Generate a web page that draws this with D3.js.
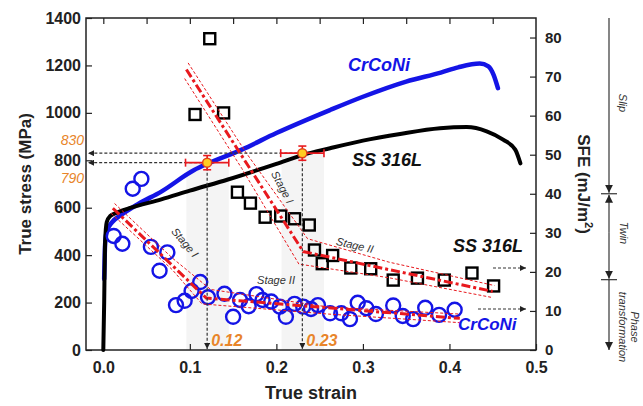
<!DOCTYPE html>
<html>
<head>
<meta charset="utf-8">
<script src="https://cdn.jsdelivr.net/npm/d3@7/dist/d3.min.js"></script>
<style>
  body { margin: 0; background: #fff; }
  svg { display: block; font-family: "Liberation Sans", Arial, sans-serif; }
</style>
</head>
<body>
<svg></svg>
<script>
// stress-strain curves: [true strain, true stress MPa]
var ssCurve = [[0,0],[0.001,200],[0.002,450],[0.004,540],[0.008,565],[0.015,578],[0.03,598],[0.067,635],
  [0.1,672],[0.144,719],[0.2,785],[0.23,822],[0.262,851],[0.3,883],[0.343,911],[0.389,935],[0.42,940],
  [0.443,922],[0.462,887],[0.476,845],[0.482,787]];
var crCurve = [[0.001,300],[0.002,440],[0.004,500],[0.01,538],[0.02,568],[0.04,615],[0.067,668],
  [0.105,759],[0.12,785],[0.16,845],[0.2,915],[0.262,1012],[0.3,1068],[0.35,1132],[0.39,1170],[0.41,1192],
  [0.435,1208],[0.445,1196],[0.451,1160],[0.456,1104]];

// SFE values (mJ/m2) vs strain
var ssSFE = [[0.106,60.3],[0.123,79.7],[0.139,60.7],[0.155,40.4],[0.170,37.6],[0.187,34.0],[0.205,34.3],
  [0.221,33.6],[0.238,32.0],[0.244,25.6],[0.253,22.1],[0.265,24.2],[0.286,21.0],[0.309,20.8],[0.335,17.9],
  [0.363,18.4],[0.394,17.9],[0.426,19.7],[0.451,16.4]];
var crSFE = [[0.012,29.2],[0.022,27.2],[0.034,41.3],[0.044,43.8],[0.055,26.4],[0.065,20.3],[0.074,25.0],
  [0.084,11.5],[0.094,12.6],[0.102,15.1],[0.112,17.4],[0.121,13.5],[0.140,14.4],[0.150,8.5],[0.158,12.8],
  [0.168,11.2],[0.177,14.3],[0.184,12.8],[0.194,12.4],[0.204,11.1],[0.211,8.5],[0.221,11.8],[0.231,11.1],
  [0.240,10.5],[0.248,11.5],[0.262,9.4],[0.275,9.4],[0.285,7.9],[0.294,12.1],[0.304,10.7],[0.315,9.2],
  [0.335,11.4],[0.346,8.7],[0.358,7.9],[0.372,10.8],[0.388,9.0],[0.406,10.3]];

// linear fits (stage I / stage II) and their confidence band edges
var ssFit = [[0.096,71.8],[0.231,25.2],[0.450,15.0]];
var ssBandA = [[0.098,73.5],[0.165,50.5],[0.236,28.5],[0.330,22.5],[0.452,16.5]];
var ssBandB = [[0.094,69.5],[0.160,46.5],[0.226,22.0],[0.330,18.5],[0.448,13.5]];
var crFit = [[0.011,36.3],[0.119,13.3],[0.412,8.1]];
var crBandA = [[0.013,37.5],[0.080,23.5],[0.124,15.5],[0.260,11.0],[0.412,9.2]];
var crBandB = [[0.009,35.0],[0.080,20.5],[0.114,11.8],[0.260,9.2],[0.412,7.0]];

// transition points: strain, stress, strain error, stress error
var transitions = [[0.12,790,0.025,30],[0.23,830,0.025,30]];
var stressTicks = [0,200,400,600,800,1000,1200,1400];
var sfeTicks = [0,10,20,30,40,50,60,70,80];
var strainTicks = [0,0.1,0.2,0.3,0.4,0.5];

var svgWidth = 643, svgHeight = 406;
var svg = d3.select("svg").attr("width", svgWidth).attr("height", svgHeight);

var xScale = d3.scaleLinear().domain([-0.02, 0.5]).range([86, 536]);
var yScale = d3.scaleLinear().domain([0, 1400]).range([350, 18]);
var ySfe = d3.scaleLinear().domain([0, 85]).range([350, 18]);

var orange = "#e8852a", red = "#e8191e", blue = "#1414e6";

var defs = svg.append("defs");
function marker(id, color, size) {
  defs.append("marker").attr("id", id)
    .attr("viewBox", "0 0 6 6").attr("refX", 6).attr("refY", 3)
    .attr("markerWidth", size).attr("markerHeight", size)
    .attr("markerUnits", "userSpaceOnUse").attr("orient", "auto")
    .append("path").attr("d", "M0,0 L6,3 L0,6 Z").attr("fill", color);
}
marker("arr", "#222", 6);
marker("arrBig", "#222", 8);

// light gray bands around transitions
transitions.forEach(function(t) {
  svg.append("rect")
    .attr("x", xScale(t[0] - t[2] + 0.001)).attr("y", yScale(t[1]))
    .attr("width", xScale(t[0] + t[2]) - xScale(t[0] - t[2] + 0.001))
    .attr("height", yScale(0) - yScale(t[1]))
    .attr("fill", "#f4f4f4");
});

// axes
var leftAx = svg.append("g").attr("transform", "translate(86,0)");
leftAx.call(d3.axisLeft(yScale).tickValues(d3.range(0, 1401, 100)).tickSize(-3).tickFormat(""));
leftAx.call(d3.axisLeft(yScale).tickValues(stressTicks).tickSize(-6).tickPadding(5).tickFormat(d3.format("d")));
var rightAx = svg.append("g").attr("transform", "translate(536,0)");
rightAx.call(d3.axisRight(ySfe).tickValues(d3.range(0, 81, 5)).tickSize(-3).tickFormat(""));
rightAx.call(d3.axisRight(ySfe).tickValues(sfeTicks).tickSize(-6).tickPadding(9).tickFormat(d3.format("d")));
var bottomAx = svg.append("g").attr("transform", "translate(0,350)");
bottomAx.call(d3.axisBottom(xScale).tickValues(d3.range(0, 0.49, 0.02)).tickSize(-3).tickFormat(""));
bottomAx.call(d3.axisBottom(xScale).tickValues(strainTicks).tickSize(-6).tickPadding(12).tickFormat(d3.format(".1f")));
var topAx = svg.append("g").attr("transform", "translate(0,18)");
topAx.call(d3.axisTop(xScale).tickValues(d3.range(0, 0.49, 0.05)).tickSize(-6).tickFormat(""));
svg.selectAll(".domain").remove();
svg.selectAll(".tick line").attr("stroke", "#222").attr("stroke-width", 1.2);
leftAx.selectAll("text").attr("font-size", 16).attr("font-weight", "bold").attr("fill", "#222");
rightAx.selectAll("text").attr("font-size", 15).attr("font-weight", "bold").attr("fill", "#222");
bottomAx.selectAll("text").attr("font-size", 16).attr("font-weight", "bold").attr("fill", "#222");
svg.append("rect").attr("x", 86).attr("y", 18).attr("width", 450).attr("height", 332)
  .attr("fill", "none").attr("stroke", "#222").attr("stroke-width", 1.5);

// stress-strain curves
var stressLine = d3.line().x(function(d) { return xScale(d[0]); }).y(function(d) { return yScale(d[1]); })
  .curve(d3.curveMonotoneX);
svg.append("path").datum(crCurve).attr("d", stressLine)
  .attr("fill", "none").attr("stroke", blue).attr("stroke-width", 4.5).attr("stroke-linecap", "round");
svg.append("path").datum(ssCurve).attr("d", stressLine)
  .attr("fill", "none").attr("stroke", "#000").attr("stroke-width", 4).attr("stroke-linecap", "round");

// SFE markers
svg.selectAll(".sq").data(ssSFE).enter().append("rect")
  .attr("x", function(d) { return xScale(d[0]) - 5.5; })
  .attr("y", function(d) { return ySfe(d[1]) - 5.5; })
  .attr("width", 11).attr("height", 11)
  .attr("fill", "none").attr("stroke", "#000").attr("stroke-width", 2.4);
svg.selectAll(".ci").data(crSFE).enter().append("circle")
  .attr("cx", function(d) { return xScale(d[0]); })
  .attr("cy", function(d) { return ySfe(d[1]); })
  .attr("r", 7).attr("fill", "none").attr("stroke", blue).attr("stroke-width", 2.4);

// fits
var sfeLine = d3.line().x(function(d) { return xScale(d[0]); }).y(function(d) { return ySfe(d[1]); });
[ssBandA, ssBandB, crBandA, crBandB].forEach(function(b) {
  svg.append("path").datum(b).attr("d", sfeLine).attr("fill", "none")
    .attr("stroke", red).attr("stroke-width", 1).attr("stroke-dasharray", "3,2");
});
[ssFit, crFit].forEach(function(f) {
  svg.append("path").datum(f).attr("d", sfeLine).attr("fill", "none")
    .attr("stroke", red).attr("stroke-width", 3).attr("stroke-dasharray", "9,3,3,3");
});

// transition guides
transitions.forEach(function(t) {
  var px = xScale(t[0]), py = yScale(t[1]);
  svg.append("line").attr("x1", px).attr("y1", py).attr("x2", 88).attr("y2", py)
    .attr("stroke", "#333").attr("stroke-width", 1.2).attr("stroke-dasharray", "3,2")
    .attr("marker-end", "url(#arr)");
  svg.append("line").attr("x1", px).attr("y1", py).attr("x2", px).attr("y2", 349)
    .attr("stroke", "#333").attr("stroke-width", 1.2).attr("stroke-dasharray", "3,2")
    .attr("marker-end", "url(#arr)");
  var eb = svg.append("g").attr("stroke", red).attr("stroke-width", 1.6);
  var x1 = xScale(t[0] - t[2]), x2 = xScale(t[0] + t[2]);
  var y1 = yScale(t[1] + t[3]), y2 = yScale(t[1] - t[3]);
  eb.append("line").attr("x1", x1).attr("x2", x2).attr("y1", py).attr("y2", py);
  eb.append("line").attr("x1", x1).attr("x2", x1).attr("y1", py - 4).attr("y2", py + 4);
  eb.append("line").attr("x1", x2).attr("x2", x2).attr("y1", py - 4).attr("y2", py + 4);
  eb.append("line").attr("x1", px).attr("x2", px).attr("y1", y1).attr("y2", y2);
  eb.append("line").attr("x1", px - 4).attr("x2", px + 4).attr("y1", y1).attr("y2", y1);
  eb.append("line").attr("x1", px - 4).attr("x2", px + 4).attr("y1", y2).attr("y2", y2);
  svg.append("circle").attr("cx", px).attr("cy", py).attr("r", 4.5)
    .attr("fill", "#ffcc22").attr("stroke", "#e0401a").attr("stroke-width", 1.5);
  svg.append("text").attr("x", px + 4).attr("y", 346)
    .attr("font-size", 16).attr("font-style", "italic").attr("font-weight", "bold")
    .attr("fill", orange).text(d3.format(".2f")(t[0]));
});
svg.append("text").attr("x", 84).attr("y", 145).attr("text-anchor", "end")
  .attr("font-size", 14).attr("font-style", "italic").attr("fill", orange).text("830");
svg.append("text").attr("x", 84).attr("y", 183).attr("text-anchor", "end")
  .attr("font-size", 14).attr("font-style", "italic").attr("fill", orange).text("790");

// end arrows toward SFE axis
svg.append("line").attr("x1", 493).attr("x2", 526).attr("y1", ySfe(21)).attr("y2", ySfe(21))
  .attr("stroke", "#333").attr("stroke-width", 1.1).attr("stroke-dasharray", "3,2").attr("marker-end", "url(#arr)");
svg.append("line").attr("x1", 478).attr("x2", 526).attr("y1", ySfe(10.5)).attr("y2", ySfe(10.5))
  .attr("stroke", "#333").attr("stroke-width", 1.1).attr("stroke-dasharray", "3,2").attr("marker-end", "url(#arr)");

// labels
function label(x, y, txt, color, size) {
  svg.append("text").attr("x", x).attr("y", y).attr("font-size", size)
    .attr("font-weight", "bold").attr("font-style", "italic").attr("fill", color).text(txt);
}
label(348, 71, "CrCoNi", blue, 18);
label(352, 166, "SS 316L", "#111", 18);
label(453, 252, "SS 316L", "#111", 18);
label(458, 330, "CrCoNi", blue, 17);

function stage(x, y, ang, txt) {
  svg.append("text").attr("transform", "translate(" + x + "," + y + ") rotate(" + ang + ")")
    .attr("text-anchor", "middle").attr("font-size", 11).attr("font-style", "italic")
    .attr("font-family", "'Liberation Sans Narrow', 'Liberation Sans', sans-serif")
    .attr("fill", "#333").text(txt);
}
stage(182, 245, 50, "Stage I");
stage(279, 189, 62, "Stage I");
stage(354, 249, 13, "Stage II");
stage(276, 284, 0, "Stage II");

// axis titles
svg.append("text").attr("transform", "translate(31,184) rotate(-90)").attr("text-anchor", "middle")
  .attr("font-size", 17).attr("font-weight", "bold").attr("fill", "#222").text("True stress (MPa)");
svg.append("text").attr("x", 311).attr("y", 399).attr("text-anchor", "middle")
  .attr("font-size", 18).attr("font-weight", "bold").attr("fill", "#222").text("True strain");
var sfeTitle = svg.append("text").attr("transform", "translate(578,184) rotate(90)").attr("text-anchor", "middle")
  .attr("font-size", 17).attr("font-weight", "bold").attr("fill", "#222");
sfeTitle.append("tspan").text("SFE (mJ/m");
sfeTitle.append("tspan").attr("font-size", 11).attr("dy", -7).text("2");
sfeTitle.append("tspan").attr("dy", 7).text(")");

// deformation mechanism scale
var mx = 609;
var mech = svg.append("g").attr("stroke", "#222").attr("stroke-width", 1.1);
mech.append("line").attr("x1", mx).attr("x2", mx).attr("y1", ySfe(85)).attr("y2", ySfe(40) - 1).attr("marker-end", "url(#arrBig)");
mech.append("line").attr("x1", mx).attr("x2", mx).attr("y1", ySfe(30)).attr("y2", ySfe(40) + 1).attr("marker-end", "url(#arrBig)");
mech.append("line").attr("x1", mx).attr("x2", mx).attr("y1", ySfe(30)).attr("y2", ySfe(18) - 1).attr("marker-end", "url(#arrBig)");
mech.append("line").attr("x1", mx).attr("x2", mx).attr("y1", ySfe(18)).attr("y2", ySfe(0)).attr("marker-end", "url(#arrBig)");
[40, 18].forEach(function(v) {
  mech.append("line").attr("x1", mx - 8).attr("x2", mx + 8).attr("y1", ySfe(v)).attr("y2", ySfe(v));
});
function mechText(x, y, txt) {
  svg.append("text").attr("transform", "translate(" + x + "," + y + ") rotate(90)").attr("text-anchor", "middle")
    .attr("font-size", 11).attr("font-style", "italic").attr("fill", "#333").text(txt);
}
mechText(619, 103, "Slip");
mechText(620, 233, "Twin");
mechText(619, 327, "transformation");
mechText(631, 327, "Phase");
</script>
</body>
</html>
